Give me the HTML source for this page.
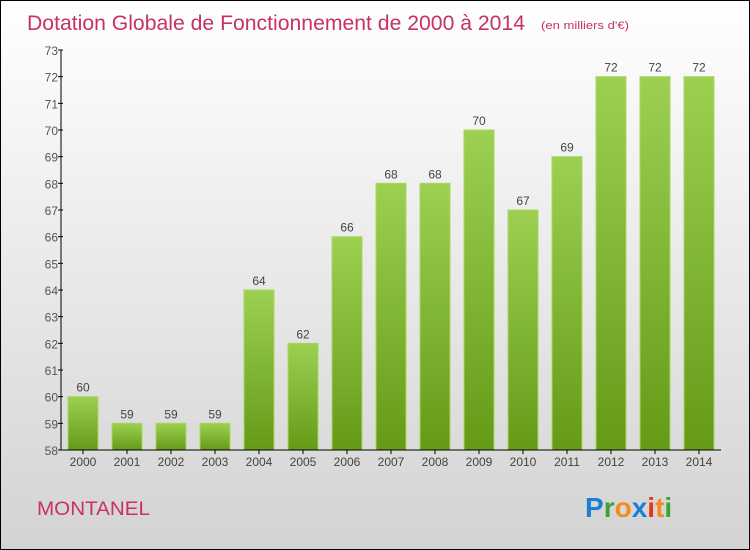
<!DOCTYPE html>
<html><head><meta charset="utf-8"><style>
body{margin:0}
#c{position:relative;width:748px;height:548px;border:1px solid #000;background:linear-gradient(#fff,#d3d3d3);font-family:"Liberation Sans",sans-serif;overflow:hidden}
</style></head><body>
<div id="c">
<svg id="s" width="748" height="548" style="position:absolute;left:0;top:0">
<defs><linearGradient id="g" x1="0" y1="0" x2="0" y2="1"><stop offset="0" stop-color="#9dd051"/><stop offset="1" stop-color="#659a17"/></linearGradient></defs>
<text x="26" y="29" font-size="21" fill="#c8325f" textLength="498" lengthAdjust="spacingAndGlyphs">Dotation Globale de Fonctionnement de 2000 à 2014</text>
<text x="540" y="28" font-size="11" fill="#c8325f" textLength="88" lengthAdjust="spacingAndGlyphs">(en milliers d'€)</text>
<text x="36" y="514" font-size="19" fill="#c8325f" textLength="113" lengthAdjust="spacingAndGlyphs">MONTANEL</text>
<g font-size="28" font-weight="bold" font-family="'Liberation Sans',sans-serif">
<text x="584" y="516"><tspan fill="#1a7fd6">P</tspan><tspan fill="#3aa435">r</tspan><tspan fill="#f58a1f">o</tspan><tspan fill="#1a7fd6">x</tspan><tspan fill="#e8361c">i</tspan><tspan fill="#f58a1f">t</tspan><tspan fill="#3aa435">i</tspan></text></g>
<g id="bars"></g>
<g id="axes"></g>
</svg>
</div>
<script>
const years=["2000","2001","2002","2003","2004","2005","2006","2007","2008","2009","2010","2011","2012","2013","2014"];
const values=[60,59,59,59,64,62,66,68,68,70,67,69,72,72,72];
const yTicks=[58,59,60,61,62,63,64,65,66,67,68,69,70,71,72,73];
const NS="http://www.w3.org/2000/svg";
const x0=60,step=44,yMin=58,yMax=73,yTop=49,yBot=449;
const y=v=>yBot-(v-yMin)/(yMax-yMin)*(yBot-yTop);
const xc=i=>x0+step*(i+0.5);
function mk(t,a,p){const e=document.createElementNS(NS,t);for(const k in a)e.setAttribute(k,a[k]);p.appendChild(e);return e;}
const B=document.getElementById('bars'),A=document.getElementById('axes');
values.forEach((v,i)=>{
 const r=mk('rect',{x:xc(i)-15,y:y(v),width:30,height:yBot-y(v),fill:'url(#g)',stroke:'#a6d862','stroke-width':1},B);
 
 
 const t=mk('text',{x:xc(i),y:y(v)-5,'text-anchor':'middle','font-size':12,fill:'#444'},B);
 t.textContent=v;
 
 
 const xl=mk('text',{x:xc(i),y:yBot+16,'text-anchor':'middle','font-size':12,fill:'#444'},A);
 xl.textContent=years[i];
 
 
 mk('line',{x1:xc(i),x2:xc(i),y1:yBot,y2:yBot+4,stroke:'#000'},A);
});
yTicks.forEach(v=>{
 mk('line',{x1:x0-3,x2:x0+2,y1:y(v),y2:y(v),stroke:'#000'},A);
 const t=mk('text',{x:x0-3,y:y(v)+5,'text-anchor':'end','font-size':12,fill:'#555'},A);
 t.textContent=v;
 
 
});
const ya=mk('line',{x1:x0,x2:x0,y1:yTop,y2:yBot,stroke:'#000'},A);


const xa=mk('line',{x1:x0,x2:x0+step*15,y1:yBot,y2:yBot,stroke:'#000'},A);


</script>
</body></html>
